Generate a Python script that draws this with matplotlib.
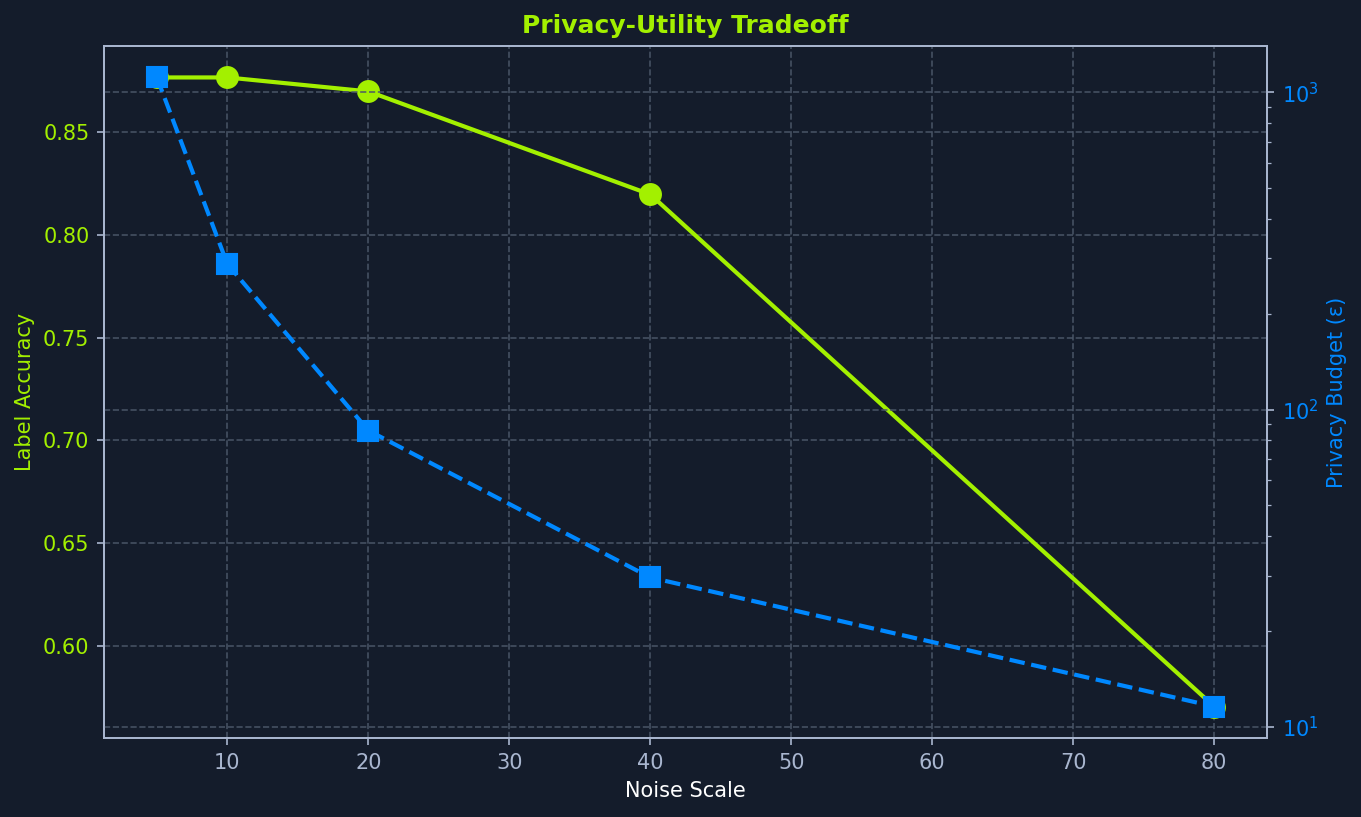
import numpy as np
import matplotlib
matplotlib.use("Agg")
import matplotlib.pyplot as plt

# data
noise_scale = [5, 10, 20, 40, 80]
label_accuracy = [0.8768, 0.8768, 0.870, 0.8198, 0.5703]
privacy_budget = [1115, 288, 86, 29.6, 11.6]

bg = "#141c2b"
green = "#a3f000"
blue = "#0088ff"
spine_col = "#a9b6cf"
grid_col = "#4a5668"

fig, ax = plt.subplots(figsize=(13.61, 8.17), dpi=100)
fig.patch.set_facecolor(bg)
ax.set_facecolor(bg)
fig.subplots_adjust(left=0.0764, right=0.931, bottom=0.0967, top=0.9437)

ax.plot(noise_scale, label_accuracy, color=green, lw=3.0, marker="o",
        markersize=15, markeredgewidth=1.5, zorder=3)
ax.set_xlabel("Noise Scale", color="white", fontsize=15, labelpad=6)
ax.set_ylabel("Label Accuracy", color=green, fontsize=15, labelpad=6)
ax.set_title("Privacy-Utility Tradeoff", color=green, fontsize=18,
             fontweight="bold", pad=9)
ax.tick_params(axis="x", colors=spine_col, labelsize=15, length=5.25, width=1.2, pad=5.25)
ax.tick_params(axis="y", colors=spine_col, labelcolor=green, labelsize=15,
               length=5.25, width=1.2, pad=5.25)
ax.grid(True, linestyle="--", color=grid_col, lw=1.2, alpha=0.9)

ax2 = ax.twinx()
ax2.plot(noise_scale, privacy_budget, color=blue, lw=3.0, ls="--", marker="s",
         markersize=15, markeredgewidth=1.5, zorder=3)
ax2.set_yscale("log")
ax2.set_ylabel("Privacy Budget (ε)", color=blue, fontsize=15, labelpad=6)
ax2.tick_params(axis="y", which="major", colors=spine_col, labelcolor=blue,
                labelsize=15, length=5.25, width=1.2, pad=5.25)
ax2.tick_params(axis="y", which="minor", colors=spine_col, length=3, width=0.9)
ax2.grid(True, which="major", axis="y", linestyle="--", color=grid_col, lw=1.2, alpha=0.9)

for a in (ax, ax2):
    for s in a.spines.values():
        s.set_color(spine_col)
        s.set_linewidth(1.3)

fig.savefig("out.png", dpi=100, facecolor=bg)
